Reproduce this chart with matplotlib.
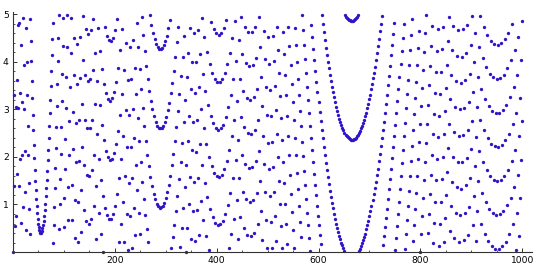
import numpy as np
import matplotlib

matplotlib.use("Agg")
import matplotlib.pyplot as plt
from matplotlib.ticker import MultipleLocator

OUTPUT_PATH = "out.png"
DOT_COLOR = "#3214c8"

# y value of each point, in hundredths, one list per hundred points (n = 1..1000)
y_001_100 = [
    0, 139, 330, 55, 305, 75, 362, 164, 478, 303, 138, 482, 334, 195, 62, 436, 316, 203, 94, 491,
    393, 300, 212, 127, 47, 471, 399, 330, 265, 204, 145, 90, 38, 490, 444, 401, 360, 323, 288, 256,
    226, 198, 173, 150, 130, 112, 96, 82, 70, 60, 52, 46, 43, 41, 40, 42, 45, 51,
    57, 66, 76, 88, 102, 117, 134, 152, 171, 193, 215, 239, 265, 292, 320, 350, 381, 414, 447, 482,
    19, 56, 95, 135, 176, 219, 263, 307, 353, 401,
    449, 498, 49, 100, 153, 207, 262, 318, 375, 433, 492, 52,
]
y_101_200 = [
    113, 175, 238, 302, 367, 432, 499, 67, 136, 205, 276, 347, 419, 493, 67, 142, 217, 294,
    372, 450, 29, 109, 190, 271, 354, 437, 21, 106, 192, 278, 365, 453, 42, 131, 221, 312, 404, 496,
    89, 183, 278, 373, 469, 65, 163, 261, 359, 459,
    59, 160, 261, 363, 466, 69, 173, 278, 383, 489, 96, 203, 311, 419, 28, 138, 248, 359, 470, 83,
    195, 309, 422, 37, 152, 268, 384, 1, 118, 236,
    354, 473, 93, 213, 334, 455, 77, 199, 322, 445, 69, 193, 318, 444, 70, 196, 323, 451, 79, 208,
    337, 466,
]
y_201_300 = [
    96, 227, 358, 490, 122, 254, 387, 21,
    155, 289, 424, 60, 196, 332, 469, 106, 244, 382, 21, 160, 299, 439, 80, 221, 362, 4, 146, 289,
    432, 76, 220, 364, 9, 155, 300, 446, 93, 240,
    387, 35, 184, 332, 481, 131, 281, 431, 82, 233, 385, 37, 189, 342, 495, 148, 302, 457, 111, 266,
    422, 78, 234, 391, 48, 205, 363, 21, 180, 338,
    498, 157, 317, 478, 139, 300, 461, 123, 285, 448, 111, 274, 438, 102, 266, 431, 96, 261, 427, 93,
    260, 427, 94, 261, 429, 97, 266, 435, 104, 273,
    443, 113,
]
y_301_400 = [
    284, 455, 126, 298, 470, 142, 314, 487, 160, 334, 8, 182, 356, 31, 206, 381, 57, 233, 410, 86,
    263, 441, 118, 296, 474, 153, 332, 11,
    190, 370, 50, 230, 411, 92, 273, 455, 137, 319, 1, 184, 367, 51, 234, 418, 102, 287, 472, 157,
    342, 28, 214, 400, 86, 273, 460, 148, 335, 23,
    211, 400, 88, 278, 467, 156, 346, 36, 227, 417, 108, 300, 491, 183, 375, 67, 260, 453, 146, 339,
    33, 227, 421, 115, 310, 5, 200, 395, 91, 287,
    483, 180, 376, 73, 271, 468, 166, 364, 62, 261, 460, 159,
]
y_401_500 = [
    358, 57, 257, 457, 157,
    358, 59, 260, 461, 162, 364, 66, 268, 471, 174, 377, 80, 283, 487, 191, 395, 99, 304, 9, 214,
    419, 125, 330, 37, 243, 449, 156, 363, 70, 278,
    485, 193, 401, 110, 318, 27, 236, 445, 155, 364, 74, 284, 495, 205, 416, 127, 338, 50, 262, 474,
    186, 398, 111, 323, 36, 250, 463, 177, 391, 105,
    319, 34, 248, 463, 178, 394, 109, 325, 41, 257, 474, 191, 407, 124, 342, 59, 277, 495, 213, 431,
    150, 368, 87, 307, 26, 245, 465, 185, 405, 126,
    346, 67, 288, 9, 230,
]
y_501_600 = [
    452, 174, 396, 118, 340, 63, 286, 8, 232, 455, 178, 402, 126, 350, 75, 299, 24, 249, 474, 199,
    425, 150, 376, 102, 328,
    55, 281, 8, 235, 462, 190, 417, 145, 373, 101, 330, 58, 287, 16, 245, 474, 203, 433, 163, 393,
    123, 353, 84, 315, 46, 277, 8, 239, 471, 203,
    435, 167, 399, 132, 364, 97, 330, 64, 297, 31, 264, 498, 232, 467, 201, 436, 171, 406, 141, 376,
    112, 347, 83, 319, 56, 292, 29, 265, 2, 239,
    477, 214, 452, 189, 427, 165, 404, 142, 381, 119, 358, 97, 337, 76, 316,
]
y_601_700 = [
    56, 295, 36, 276, 16, 257, 498, 239, 480, 221, 462, 204, 446, 188, 430,
    172, 414, 157, 400, 143, 386, 129, 372, 116, 359, 103, 347, 92, 336, 80, 325, 70, 315, 60, 305,
    51, 296, 42, 288, 34, 280, 27, 273, 20, 267,
    14, 261, 8, 256, 3, 251, 499, 247, 495, 244, 492, 241, 490,
    239, 488, 237, 487, 236, 486, 236, 486, 236, 486, 237, 488, 238, 489, 240, 492, 243, 495, 246, 498,
    250, 2, 255, 7, 260, 12, 265, 18, 271, 25,
    278, 32, 285, 39, 293, 48, 302, 56, 311, 66, 321, 76,
]
y_701_800 = [
    331, 86, 342, 97, 353, 109, 365, 121, 377, 134, 390, 147, 404, 161, 418, 175, 433, 191,
    448, 206, 464, 222, 480, 239, 497, 256, 15, 274, 33, 292, 52, 311, 71, 331, 90, 351, 111, 371,
    132, 392, 153, 414, 175, 436, 197, 459, 220, 482,
    244, 5, 268, 30, 292, 55, 317, 80, 343, 106, 369, 132, 396, 159, 423, 187, 451, 215, 479, 243,
    7, 272, 37, 302, 67, 332, 97, 362, 128, 393,
    159, 425, 191, 457, 223, 490, 256, 23, 290, 56, 323, 91, 358, 125, 393, 160, 428, 196, 464, 232,
    1, 269,
]
y_801_900 = [
    37, 306, 75, 344, 113, 382, 151, 421,
    190, 460, 230, 499, 269, 40, 310, 80, 351, 121, 392, 163, 434, 205, 476, 248, 19, 291, 62, 334,
    106, 378, 151, 423, 195, 468, 241, 13, 286, 59,
    332, 106, 379, 153, 426, 200, 474, 248, 22, 296, 71, 345,
    120, 394, 169, 444, 219, 494, 270, 45, 321, 96, 372, 148, 424, 200, 476, 252, 29, 305, 82, 359,
    136, 413, 190, 467, 245, 22, 300, 77, 355, 133, 411, 189, 468, 246, 25, 303, 82, 361, 140, 419,
    198, 477, 257, 36, 316, 95, 375, 155, 435, 216,
]
y_901_1000 = [
    496, 276, 57, 337, 118, 399, 180, 461, 242, 23, 305, 86, 368, 150, 432, 213, 496, 278, 60, 342,
    125, 407, 190, 473, 256, 39, 322, 105, 389, 172, 456, 239, 23, 307, 91, 375, 159, 444, 228, 13,
    297, 82, 367, 152, 437, 222, 7, 293, 78, 364,
    150, 435, 221, 7, 293, 80, 366, 152, 439, 226, 12, 299, 86, 373, 160, 448, 235, 22, 310, 98,
    386, 173, 461, 249, 38, 326, 114, 403, 191, 480, 269, 58, 347, 136, 425, 215, 4, 293, 83, 373,
    163, 453, 243, 33, 323, 113, 404, 194, 485, 276,
]

X_TICKS = [200, 400, 600, 800, 1000]
Y_TICKS = [1, 2, 3, 4, 5]


def build_chart():
    y_centi = (y_001_100 + y_101_200 + y_201_300 + y_301_400 + y_401_500
               + y_501_600 + y_601_700 + y_701_800 + y_801_900 + y_901_1000)
    y = np.array(y_centi) / 100.0
    n = np.arange(1, len(y) + 1)

    fig = plt.figure(figsize=(5.4, 2.69), dpi=100)
    ax = fig.add_axes([0.024, 0.063, 0.961, 0.893])
    ax.plot(n, y, "o", ms=2.4, color=DOT_COLOR, mec="none", clip_on=False)

    ax.set_xlim(0, 1019)
    ax.set_ylim(0, 5.05)

    for side in ("top", "right"):
        ax.spines[side].set_visible(False)
    for side in ("left", "bottom"):
        ax.spines[side].set_linewidth(0.8)
        ax.spines[side].set_color("#333333")

    ax.set_xticks(X_TICKS)
    ax.set_yticks(Y_TICKS)
    ax.xaxis.set_minor_locator(MultipleLocator(50))
    ax.yaxis.set_minor_locator(MultipleLocator(0.2))
    ax.tick_params(which="major", direction="in", length=3, width=0.7,
                   color="#333333", labelsize=6.6, pad=3)
    ax.tick_params(which="minor", direction="in", length=1.6, width=0.6,
                   color="#333333")

    fig.savefig(OUTPUT_PATH, dpi=100)


def main():
    build_chart()


if __name__ == "__main__":
    main()
